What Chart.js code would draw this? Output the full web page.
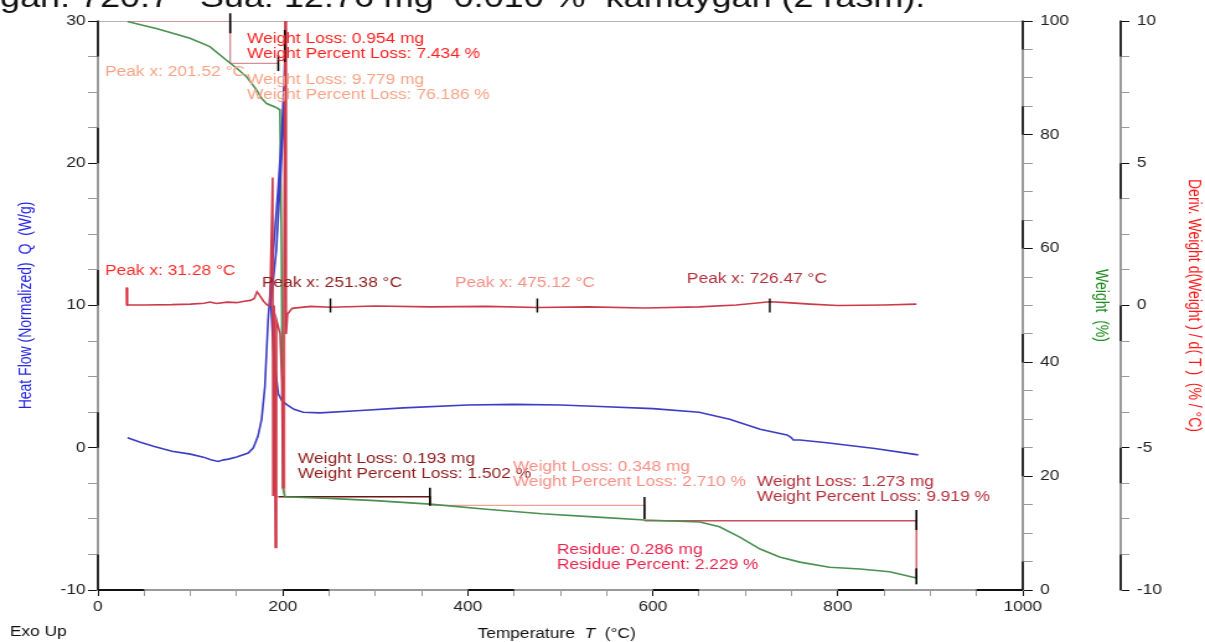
<!DOCTYPE html>
<html>
<head>
<meta charset="utf-8">
<title>TGA / DSC</title>
<script src="https://cdn.jsdelivr.net/npm/chart.js@4.4.1/dist/chart.umd.min.js"></script>
<style>
  html, body { margin: 0; padding: 0; background: #fff; overflow: hidden; }
  /* the original picture is stretched sideways, so draw narrow and stretch */
  #wrap { position: absolute; left: 0; top: 0; width: 972px; height: 642px; transform: scaleX(1.2397); transform-origin: 0 0; }
</style>
</head>
<body>
<div id="wrap"><canvas id="chart" width="972" height="642"></canvas></div>
<script>
// ---- data (temperature in °C) ------------------------------------------

// Heat flow, W/g (left axis)
const hfTemp = [32, 45, 60, 80, 100, 114, 122, 130, 136, 141, 150, 162.5, 168, 173, 177, 180.5, 184, 189.5, 195, 198.6, 201.5, 203,
  200, 193, 187, 190, 195, 199, 205, 212, 222, 240, 280, 330, 400, 450, 500, 543, 600, 650, 683, 716, 745, 749, 752, 759, 788, 840, 887];
const heatFlow = [0.7, 0.4, 0.1, -0.25, -0.45, -0.66, -0.85, -0.96, -0.85, -0.8, -0.65, -0.37, 0.0, 0.8, 2.0, 4.3, 9.0, 13.7, 18.4, 21.9, 26.0, 29.2,
  22.0, 14.0, 10.2, 6.5, 3.8, 3.3, 3.0, 2.7, 2.5, 2.45, 2.6, 2.8, 3.0, 3.05, 3.0, 2.9, 2.75, 2.5, 2.0, 1.3, 0.9, 0.75, 0.55, 0.55, 0.35, -0.05, -0.5];

// Weight, % (first right axis)
const wTemp = [32, 45, 63, 80, 99.5, 121, 139, 150, 160.7, 171.5, 177, 182.4, 191.4, 196.8, 198.5, 200, 202, 250, 300, 359,
  420, 480, 540, 591, 651, 672, 694, 716, 737, 759, 791, 824, 856, 885];
const weight = [99.9, 99.4, 98.7, 97.9, 96.95, 95.5, 93.1, 91.7, 90.2, 87.9, 86.4, 85.5, 84.9, 84.4, 60, 18, 16.4, 16.1, 15.7, 15.1,
  14.2, 13.4, 12.8, 12.3, 11.95, 11.1, 9.3, 7.2, 5.8, 4.9, 4.0, 3.7, 3.2, 2.1];

// Deriv. weight, %/°C (second right axis)
const dTemp = [31.28, 31.3, 32, 50, 80, 100, 115, 121, 128, 140, 150, 158, 165, 169, 172, 174, 176, 179, 183, 186,
  188.9, 189.3, 190.5, 191.8, 193, 197, 199, 200, 201, 202.5, 203.5, 205, 210, 230, 251.38, 300, 359, 420, 475.12,
  530, 591, 650, 690, 710, 726.47, 745, 770, 800, 850, 885];
const derivWeight = [0.62, 0.05, 0.02, 0.02, 0.03, 0.05, 0.08, 0.12, 0.07, 0.12, 0.1, 0.15, 0.18, 0.25, 0.48, 0.4, 0.3, 0.15, 0.02, 0.0,
  4.5, -6.7, 0.0, -8.5, -0.5, -1.0, -2.7, -6.4, 0.0, 11, -1.0, -0.3, -0.1, -0.03, -0.06, -0.02, -0.05, -0.03, -0.07,
  -0.05, -0.09, -0.05, 0.02, 0.08, 0.13, 0.1, 0.05, 0.0, 0.02, 0.05];

// weight-change brackets (weight axis)
const step1T = [32, 143, 143, 195],  step1W = [100, 100, 92.57, 92.57];
const step2T = [202, 202],           step2W = [100, 16.38];
const step3T = [195, 359, 359],      step3W = [16.38, 16.38, 14.88];
const step4T = [359, 591, 591],      step4W = [14.88, 14.88, 12.17];
const step5T = [591, 885, 885],      step5W = [12.17, 12.17, 2.25];

// bracket end marks (weight axis) and peak marks (deriv axis)
const markT = [143, 195, 202, 359, 591, 885, 885];
const markW = [99.6, 92.6, 95.6, 16.4, 14.4, 12.3, 2.4];
const peakT = [251.38, 475.12, 726.47];
const peakD = [0, 0, 0];
const firstPeakT = [31.28];
const firstPeakD = [0.32];

// tick labels
const xLabels = [0, 200, 400, 600, 800, 1000];
const hfLabels = [-10, 0, 10, 20, 30];
const wLabels = [0, 20, 40, 60, 80, 100];
const dLabels = [-10, -5, 0, 5, 10];

const pageTitle = "gan: 720.7   Sua: 12.76 mg  0.010 %  kamaygan (2 rasm).";

// annotation texts, anchored at (°C, weight %)
const notes = [
  { t: 161.1, w: 96.84, color: "#ff1f1f", lines: ["Weight Loss: 0.954 mg", "Weight Percent Loss: 7.434 %"] },
  { t: 7.6,   w: 91.04, color: "#f7a386", lines: ["Peak x: 201.52 °C"] },
  { t: 161.1, w: 89.63, color: "#f7a386", lines: ["Weight Loss: 9.779 mg", "Weight Percent Loss: 76.186 %"] },
  { t: 7.6,   w: 56.06, color: "#ff2a2a", lines: ["Peak x: 31.28 °C"] },
  { t: 177.3, w: 53.95, color: "#8e1a1a", lines: ["Peak x: 251.38 °C"] },
  { t: 385.9, w: 53.95, color: "#f58f86", lines: ["Peak x: 475.12 °C"] },
  { t: 636.8, w: 54.66, color: "#b3303c", lines: ["Peak x: 726.47 °C"] },
  { t: 216.2, w: 23.02, color: "#8e1a1a", lines: ["Weight Loss: 0.193 mg", "Weight Percent Loss: 1.502 %"] },
  { t: 448.6, w: 21.62, color: "#f58f86", lines: ["Weight Loss: 0.348 mg", "Weight Percent Loss: 2.710 %"] },
  { t: 712.4, w: 18.98, color: "#b3303c", lines: ["Weight Loss: 1.273 mg", "Weight Percent Loss: 9.919 %"] },
  { t: 496.2, w: 7.03,  color: "#e8244c", lines: ["Residue: 0.286 mg", "Residue Percent: 2.229 %"] },
];

// dark segments drawn over the grey axis lines
const axisDark = {
  x:   [[0, 50], [200, 250], [400, 450], [600, 650], [800, 850], [950, 1000]],
  yHF: [[27.5, 30], [20, 22.5], [10, 12.5], [0, 2.5], [-10, -7.5]],
  yW:  [[95, 100], [80, 85], [60, 65], [40, 45], [20, 25], [0, 5]],
  yD:  [[8.75, 10], [3.75, 5], [-1.25, 0], [-6.25, -5], [-10, -8.75]],
};

// ------------------------------------------------------------------------

const FONT = '"Liberation Sans", Arial, sans-serif';
const pts = (xs, ys) => xs.map((x, i) => ({ x, y: ys[i] }));

function stepSet(xs, ys, color, width) {
  return { data: pts(xs, ys), yAxisID: "yW", borderColor: color, borderWidth: width || 1.3, pointRadius: 0, order: 5 };
}

const decor = {
  id: "decor",
  beforeDatasetsDraw(chart) {
    const { ctx, chartArea } = chart;
    ctx.save();
    ctx.strokeStyle = "#b4b4b4";
    ctx.lineWidth = 1;
    ctx.beginPath();
    ctx.moveTo(chartArea.left, chartArea.top + 0.5);
    ctx.lineTo(chartArea.right, chartArea.top + 0.5);
    ctx.stroke();
    ctx.restore();
  },
  afterDatasetsDraw(chart) {
    const { ctx, scales } = chart;
    ctx.save();
    ctx.font = `14px ${FONT}`;
    ctx.textBaseline = "middle";
    ctx.textAlign = "left";
    for (const n of notes) {
      const x = scales.x.getPixelForValue(n.t);
      const y = scales.yW.getPixelForValue(n.w);
      ctx.fillStyle = n.color;
      n.lines.forEach((line, i) => ctx.fillText(line, x, y + i * 15));
    }
    ctx.restore();
  },
  afterDraw(chart) {
    const { ctx, scales } = chart;
    ctx.save();
    // dark pieces of the axis lines
    ctx.strokeStyle = "#111";
    for (const id of Object.keys(axisDark)) {
      const s = scales[id];
      ctx.lineWidth = id === "x" ? 2 : 1.6;
      for (const [a, b] of axisDark[id]) {
        ctx.beginPath();
        if (id === "x") {
          ctx.moveTo(s.getPixelForValue(a), s.top);
          ctx.lineTo(s.getPixelForValue(b), s.top);
        } else {
          const x = s.position === "left" ? s.right : s.left;
          ctx.moveTo(x, s.getPixelForValue(a));
          ctx.lineTo(x, s.getPixelForValue(b));
        }
        ctx.stroke();
      }
    }
    // x axis title with italic T
    ctx.fillStyle = "#111";
    ctx.textBaseline = "middle";
    ctx.textAlign = "left";
    const parts = [["Temperature  ", `14px ${FONT}`], ["T", `italic 14px ${FONT}`], ["  (°C)", `14px ${FONT}`]];
    let total = 0;
    for (const [t, f] of parts) { ctx.font = f; total += ctx.measureText(t).width; }
    let x = 449 - total / 2;
    for (const [t, f] of parts) { ctx.font = f; ctx.fillText(t, x, 634); x += ctx.measureText(t).width; }
    ctx.font = `14px ${FONT}`;
    ctx.fillText("Exo Up", 8, 632);
    // clipped caption line at the very top
    ctx.font = `29px ${FONT}`;
    ctx.textBaseline = "alphabetic";
    ctx.fillText(pageTitle, 0, 7);
    ctx.restore();
  },
};

function tickOpts(labels, step, padding) {
  return {
    stepSize: step, autoSkip: false, maxRotation: 0, padding, color: "#222",
    font: { family: FONT, size: 14 },
    callback: (v) => (labels.includes(v) ? String(v) : ""),
  };
}
function gridOpts(labels, len) {
  return {
    drawOnChartArea: false, tickLength: len, tickWidth: 1,
    tickColor: (c) => (c.tick && labels.includes(c.tick.value) ? "#111" : "#9a9a9a"),
  };
}
const border = { color: "#9a9a9a", width: 2 };

new Chart(document.getElementById("chart"), {
  type: "line",
  data: {
    datasets: [
      { data: pts(hfTemp, heatFlow), yAxisID: "yHF", borderColor: "#3c3cc4", borderWidth: 1.6, pointRadius: 0, order: 2 },
      { data: pts(dTemp, derivWeight), yAxisID: "yD", borderColor: "#cc3a4a", borderWidth: 1.6, pointRadius: 0, order: 1 },
      { data: pts(wTemp, weight), yAxisID: "yW", borderColor: "#4a9050", borderWidth: 1.6, pointRadius: 0, order: 3 },
      stepSet(step1T, step1W, "#d88e9a"),
      stepSet(step2T, step2W, "#f2a8a0"),
      stepSet(step3T, step3W, "#6e1414", 1.5),
      stepSet(step4T, step4W, "#f0a094"),
      stepSet(step5T, step5W, "#c8505a"),
      {
        data: pts(markT, markW), yAxisID: "yW", showLine: false, clip: false, order: 0,
        pointStyle: "line", rotation: 90, pointRadius: [10, 8, 16, 9, 11, 10, 8],
        pointBorderColor: "#000", pointBorderWidth: 1.6,
      },
      {
        data: pts(peakT, peakD), yAxisID: "yD", showLine: false, order: 0,
        pointStyle: "line", rotation: 90, pointRadius: 7, pointBorderColor: "#000", pointBorderWidth: 1.4,
      },
      {
        data: pts(firstPeakT, firstPeakD), yAxisID: "yD", showLine: false, order: 0,
        pointStyle: "line", rotation: 90, pointRadius: 9, pointBorderColor: "#e02030", pointBorderWidth: 1.6,
      },
    ],
  },
  options: {
    responsive: false,
    animation: false,
    events: [],
    layout: { padding: { top: 21, left: 0, right: 0, bottom: 0 } },
    plugins: { legend: { display: false }, tooltip: { enabled: false } },
    scales: {
      x: {
        type: "linear", position: "bottom", min: 0, max: 1000,
        ticks: tickOpts(xLabels, 50, 3), grid: gridOpts(xLabels, 6), border,
        afterFit: (s) => { s.height = 52; },
      },
      yHF: {
        type: "linear", position: "left", min: -10, max: 30,
        ticks: tickOpts(hfLabels, 2.5, 2), grid: gridOpts(hfLabels, 8), border,
        title: { display: true, text: "Heat Flow (Normalized)  Q  (W/g)", color: "#2424e6", font: { family: FONT, size: 14 }, padding: { top: 13 } },
        afterFit: (s) => { s.width = 79; },
      },
      yW: {
        type: "linear", position: "right", min: 0, max: 100,
        ticks: tickOpts(wLabels, 5, 6), grid: gridOpts(wLabels, 8), border,
        title: { display: true, text: "Weight  (%)", color: "#1e8c1e", font: { family: FONT, size: 14 }, padding: { top: 8 } },
        afterFit: (s) => { s.width = 79; },
      },
      yD: {
        type: "linear", position: "right", min: -10, max: 10,
        ticks: tickOpts(dLabels, 1.25, 6), grid: gridOpts(dLabels, 7), border,
        title: { display: true, text: "Deriv. Weight d(Weight ) / d( T )  (% / °C)", color: "#ff1a1a", font: { family: FONT, size: 14 }, padding: { top: 1 } },
        afterFit: (s) => { s.width = 68; },
      },
    },
  },
  plugins: [decor],
});
</script>
</body>
</html>
